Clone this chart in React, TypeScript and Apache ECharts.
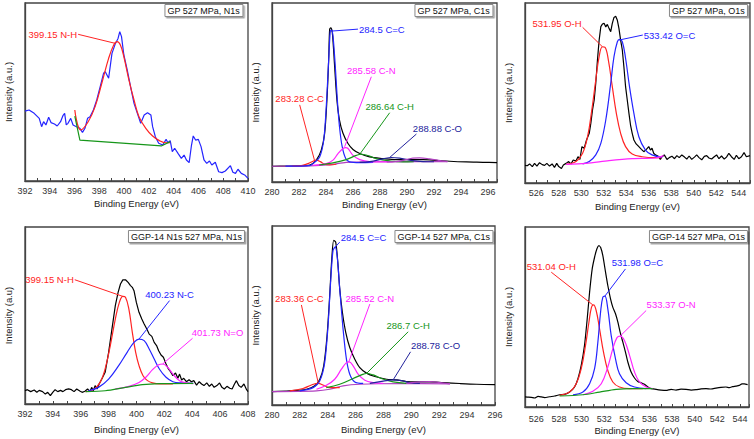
import React, { useEffect, useRef } from 'react';
import * as echarts from 'echarts';

const FONT = "'Liberation Sans', Arial, sans-serif";
const RED = '#ff2424';
const BLUE = '#2424ff';
const MAG = '#ff24ff';
const GREEN = '#16961a';
const NAVY = '#22229c';
const PURPLE = '#b040c0';

// ---------- Panel 1: GP 527 MPa, N1s ----------
const p1Spectrum = [[392.0,39.3],[392.33,39.9],[392.74,38.0],[393.15,35.2],[393.34,30.5],[393.5,33.3],[393.69,31.5],[393.91,35.8],[394.1,32.8],[394.38,32.0],[394.6,30.9],[394.87,33.3],[395.06,36.7],[395.2,38.0],[395.33,31.5],[395.47,32.4],[395.69,35.2],[395.88,31.5],[396.15,30.5],[396.43,29.6],[396.64,27.3],[396.84,29.6],[397.05,35.2],[397.25,36.1],[397.52,39.9],[397.79,45.5],[398.07,53.0],[398.34,60.5],[398.48,61.4],[398.75,57.7],[399.02,71.7],[399.3,77.3],[399.51,80.1],[399.65,83.9],[399.79,81.1],[399.98,70.8],[400.25,62.4],[400.52,53.0],[400.8,43.6],[401.07,38.0],[401.34,32.4],[401.62,37.1],[401.89,38.4],[402.16,37.1],[402.3,30.5],[402.52,24.9],[402.79,21.2],[403.12,20.2],[403.39,23.4],[403.53,21.5],[403.72,22.7],[403.89,16.5],[404.08,18.4],[404.35,15.5],[404.62,12.7],[404.84,14.6],[405.03,11.8],[405.25,10.3],[405.44,20.2],[405.58,25.3],[405.77,23.0],[405.99,23.4],[406.21,19.3],[406.45,11.8],[406.67,9.9],[406.89,11.2],[407.08,9.0],[407.36,10.5],[407.63,5.2],[407.9,4.7],[408.17,5.6],[408.58,8.6],[408.78,4.9],[408.99,4.3],[409.19,6.6],[409.46,4.3],[409.73,3.4],[410.0,1.5]];
const p1FitNH = [[396.02,39.9],[396.5,28.7],[397.1,33.3],[397.66,41.8],[398.2,54.9],[398.75,68.9],[399.16,76.4],[399.43,78.3],[399.7,76.4],[399.98,69.8],[400.39,56.7],[400.8,45.5],[401.2,36.1],[401.75,29.6],[402.3,25.3],[402.85,22.7],[403.39,21.5],[403.72,21.5]];
const p1Base = [[396.02,36.5],[396.43,23.0],[403.0,19.7],[403.72,22.1]];

// ---------- Panel 2: GP 527 MPa, C1s ----------
const p2Envelope = [[280.0,8.8],[281.0,8.9],[282.0,9.0],[282.8,9.4],[283.28,12.2],[283.65,17.8],[283.9,27.2],[284.07,45.9],[284.2,68.4],[284.27,85.2],[284.35,86.1],[284.47,83.3],[284.64,64.6],[284.81,45.9],[285.0,34.6],[285.26,27.2],[285.63,21.5],[286.0,18.2],[286.5,15.9],[287.23,14.0],[288.22,13.1],[289.2,12.5],[290.2,12.5],[291.19,12.5],[292.17,12.1],[293.16,11.6],[294.4,11.2],[295.63,11.0],[296.67,10.8]];
const p2CC = [[281.5,8.9],[282.05,9.0],[282.67,10.3],[283.04,11.6],[283.28,12.2],[283.58,11.4],[283.9,9.9],[284.27,9.5],[284.77,9.9]];
const p2CeqC = [[281.0,8.9],[282.8,9.2],[283.04,10.3],[283.53,14.0],[283.83,23.3],[284.02,42.0],[284.2,68.4],[284.32,84.3],[284.42,84.9],[284.52,81.5],[284.69,64.6],[284.84,45.9],[285.0,30.9],[285.2,19.7],[285.46,13.1],[285.75,11.2],[286.5,10.8],[287.5,10.9]];
const p2CN = [[283.0,9.3],[284.02,10.3],[284.52,12.2],[284.89,15.9],[285.26,18.7],[285.46,19.2],[285.63,18.7],[286.0,14.9],[286.5,12.5],[287.23,11.4],[288.2,11.2],[289.0,11.3]];
const p2CH = [[283.5,9.5],[284.52,10.7],[285.5,12.5],[286.25,14.9],[286.6,15.5],[287.1,14.8],[287.73,13.1],[288.72,11.8],[289.7,11.2],[290.5,11.3]];
const p2CO = [[286.5,11.0],[287.23,11.4],[288.22,12.9],[288.84,13.7],[289.46,13.3],[290.2,12.2],[291.19,11.4],[292.0,11.3]];
const p2Extra = [[288.5,11.2],[289.2,11.4],[290.44,13.3],[290.94,13.5],[291.68,12.9],[292.54,11.8],[293.0,11.4]];
const p2Base = [[280.0,8.8],[282.8,9.0],[284.3,9.7],[285.5,11.0],[287.5,11.3],[290.0,11.4],[292.5,11.4],[293.0,11.3]];

// ---------- Panel 3: GP 527 MPa, O1s ----------
const p3Spectrum = [[525.0,9.8],[525.2,9.6],[525.41,10.6],[525.65,9.1],[525.85,10.9],[526.06,9.4],[526.29,11.3],[526.53,10.2],[526.74,9.8],[526.94,10.9],[527.18,9.4],[527.41,10.6],[527.62,8.7],[527.82,10.9],[528.0,9.1],[528.24,8.1],[528.41,10.0],[528.65,10.9],[528.88,11.9],[529.09,10.6],[529.29,12.8],[529.53,12.2],[529.71,14.6],[529.88,13.1],[530.06,20.2],[530.26,19.3],[530.47,23.9],[530.71,27.6],[530.85,33.1],[531.0,40.6],[531.15,46.1],[531.29,55.4],[531.44,68.3],[531.59,79.4],[531.74,86.9],[531.88,88.3],[532.03,88.7],[532.18,86.7],[532.32,88.1],[532.47,85.9],[532.62,84.1],[532.76,88.7],[532.91,92.0],[533.06,92.6],[533.21,90.4],[533.35,85.9],[533.5,79.4],[533.65,73.9],[533.79,64.6],[533.94,53.5],[534.09,46.1],[534.24,38.7],[534.38,32.2],[534.53,27.6],[534.68,23.9],[534.88,21.7],[535.12,20.2],[535.35,18.7],[535.56,17.4],[535.79,18.7],[536.0,20.2],[536.15,18.3],[536.29,19.3],[536.44,16.5],[536.59,15.6],[536.82,15.0],[537.03,13.1],[537.18,14.6],[537.38,15.6],[537.62,13.1],[537.82,14.1],[538.06,14.9],[538.29,13.5],[538.5,15.2],[538.71,14.1],[538.94,15.6],[539.18,14.4],[539.38,13.3],[539.59,15.0],[539.82,13.1],[540.06,14.4],[540.26,15.6],[540.47,14.1],[540.71,12.9],[540.94,14.8],[541.15,15.2],[541.35,13.9],[541.59,13.3],[541.82,14.6],[542.03,15.6],[542.24,13.5],[542.47,15.0],[542.71,13.3],[542.91,14.4],[543.12,16.5],[543.35,14.6],[543.59,13.1],[543.79,15.4],[544.0,13.5],[544.24,14.6],[544.47,16.9],[544.68,14.6],[545.0,15.2]];
const p3OH = [[528.65,10.4],[529.53,11.9],[530.12,16.5],[530.56,25.7],[530.94,40.6],[531.29,57.2],[531.59,70.2],[531.88,75.7],[532.12,75.4],[532.41,68.3],[532.76,53.5],[533.12,38.7],[533.5,27.6],[533.94,20.2],[534.53,16.1],[535.41,14.6],[536.59,14.1],[537.18,14.1]];
const p3OC = [[530.12,10.6],[530.71,11.9],[531.29,15.6],[531.74,22.0],[532.18,35.0],[532.62,55.4],[532.91,70.2],[533.21,78.5],[533.41,79.8],[533.65,78.5],[533.94,69.3],[534.29,53.5],[534.68,38.7],[535.12,25.7],[535.71,18.3],[536.29,15.6],[537.18,14.3]];
const p3Base = [[528.65,10.4],[530.41,10.9],[532.47,12.4],[534.53,13.5],[536.59,13.9],[537.32,15.2]];

// ---------- Panel 4: GGP-14 527 MPa, N1s ----------
const p4Spectrum = [[392.0,7.5],[392.17,8.1],[392.41,7.0],[392.66,7.9],[392.85,6.6],[393.02,7.7],[393.26,7.0],[393.46,5.6],[393.63,6.6],[393.82,4.7],[393.99,6.6],[394.16,8.1],[394.35,7.0],[394.55,7.7],[394.72,7.0],[394.91,8.1],[395.13,8.5],[395.33,8.1],[395.52,7.0],[395.71,8.5],[395.93,7.3],[396.1,6.6],[396.3,7.2],[396.49,8.5],[396.66,7.0],[396.78,9.4],[396.9,7.5],[397.03,10.4],[397.17,8.5],[397.32,11.3],[397.51,14.1],[397.75,17.9],[398.0,29.2],[398.24,42.4],[398.48,55.6],[398.68,63.1],[398.85,67.8],[399.02,70.1],[399.21,70.2],[399.4,68.7],[399.57,66.9],[399.7,65.9],[399.82,64.0],[399.99,57.4],[400.18,51.8],[400.38,48.0],[400.55,45.2],[400.74,42.4],[400.91,39.5],[401.1,38.2],[401.27,34.8],[401.44,33.0],[401.59,30.1],[401.76,27.7],[401.93,26.4],[402.12,22.6],[402.29,19.8],[402.44,18.3],[402.61,16.0],[402.8,17.5],[402.97,14.5],[403.09,16.9],[403.24,13.6],[403.39,14.5],[403.58,12.6],[403.77,13.7],[403.94,12.6],[404.11,13.2],[404.31,10.7],[404.5,12.6],[404.67,11.3],[404.84,10.4],[405.04,11.9],[405.23,10.0],[405.4,11.3],[405.57,9.4],[405.77,10.4],[405.96,11.9],[406.13,9.4],[406.3,8.5],[406.49,10.0],[406.69,8.9],[406.86,8.5],[407.03,11.3],[407.17,13.2],[407.34,10.4],[407.51,9.4],[407.71,11.3],[407.9,8.1],[408.0,7.0]];
const p4NH = [[396.35,7.0],[396.9,8.1],[397.39,12.2],[397.75,19.8],[398.12,33.0],[398.48,48.0],[398.77,57.4],[399.02,60.8],[399.21,60.3],[399.45,53.7],[399.7,40.5],[399.94,29.2],[400.18,21.7],[400.47,16.0],[400.79,13.2],[401.15,11.9],[401.64,11.3],[402.61,11.3]];
const p4NC = [[396.54,7.5],[397.27,9.4],[398.0,14.1],[398.72,21.7],[399.33,29.2],[399.82,34.8],[400.18,36.7],[400.55,35.8],[400.91,31.1],[401.27,25.4],[401.64,19.8],[402.12,15.1],[402.61,12.6],[403.22,11.9],[404.07,11.7]];
const p4NO = [[398.48,8.5],[399.45,10.0],[400.18,12.2],[400.67,15.1],[401.15,19.4],[401.59,22.2],[401.88,22.6],[402.24,20.7],[402.61,16.9],[403.09,13.2],[403.58,11.9],[404.07,11.5]];
const p4Base = [[396.35,7.0],[397.75,7.5],[399.21,9.4],[400.42,10.9],[401.64,11.5],[404.07,11.7]];

// ---------- Panel 5: GGP-14 527 MPa, C1s ----------
const p5Envelope = [[280.0,7.5],[281.27,7.9],[282.47,8.8],[283.07,10.7],[283.43,14.4],[283.71,21.9],[283.95,38.7],[284.14,61.1],[284.29,81.7],[284.43,92.0],[284.57,91.0],[284.72,79.8],[284.86,64.9],[285.05,51.8],[285.29,40.6],[285.58,32.1],[285.94,25.6],[286.3,20.9],[286.78,17.8],[287.38,15.9],[288.22,14.4],[288.93,14.0],[289.65,13.1],[290.37,12.9],[291.33,12.9],[292.29,12.5],[293.49,12.0],[294.68,11.6],[296.0,11.4]];
const p5CC = [[281.27,7.9],[282.23,9.2],[282.83,11.2],[283.31,12.1],[283.71,11.0],[284.14,9.7],[284.86,9.7]];
const p5CeqC = [[281.99,7.9],[282.95,9.7],[283.43,13.5],[283.78,23.7],[284.02,44.3],[284.22,70.5],[284.38,86.4],[284.53,88.2],[284.67,83.6],[284.86,64.9],[285.1,42.4],[285.34,25.6],[285.58,17.2],[285.94,12.9],[286.54,12.1]];
const p5CN = [[283.19,8.8],[283.9,11.0],[284.5,14.4],[284.98,20.0],[285.34,23.7],[285.53,24.1],[285.82,21.9],[286.18,17.2],[286.66,13.8],[287.26,12.5],[287.98,12.1]];
const p5CH = [[283.9,9.7],[284.86,11.6],[285.82,14.8],[286.42,16.8],[286.78,17.6],[287.26,16.8],[287.86,14.8],[288.69,12.9],[289.65,12.1]];
const p5CO = [[287.02,12.1],[287.98,13.3],[288.69,14.0],[289.29,13.6],[289.89,12.5],[290.61,12.1]];
const p5Extra = [[289.65,12.1],[290.61,12.9],[291.33,13.1],[292.05,12.5],[292.77,11.8]];
const p5Base = [[280.0,7.5],[283.19,7.9],[284.14,8.8],[285.1,10.7],[286.3,11.6],[289.17,12.0],[292.77,11.8]];

// ---------- Panel 6: GGP-14 527 MPa, O1s ----------
const p6Envelope = [[525.0,5.6],[525.21,5.5],[525.56,5.4],[525.85,5.0],[526.15,5.9],[526.44,5.6],[526.74,5.2],[527.18,5.7],[527.62,6.1],[528.06,6.8],[528.5,7.0],[528.94,8.3],[529.38,11.1],[529.68,15.7],[529.97,23.1],[530.26,34.2],[530.5,49.0],[530.71,63.8],[530.94,76.7],[531.15,83.2],[531.35,87.8],[531.53,89.6],[531.68,88.7],[531.88,84.1],[532.12,74.9],[532.32,67.5],[532.56,60.1],[532.76,55.5],[533.0,51.8],[533.21,47.1],[533.41,41.6],[533.65,36.0],[533.88,30.5],[534.09,25.0],[534.38,19.4],[534.68,16.1],[534.97,14.2],[535.26,13.5],[535.56,12.6],[536.0,10.5],[536.59,9.8],[537.03,9.4],[537.47,9.2],[537.91,9.8],[538.35,9.4],[538.79,9.9],[539.24,9.8],[539.68,9.4],[540.12,9.6],[540.56,10.1],[541.0,10.2],[541.44,10.0],[541.88,10.5],[542.32,10.9],[542.76,11.1],[543.06,10.8],[543.35,11.3],[543.65,11.6],[543.94,12.0],[544.18,12.9],[544.38,12.8],[544.68,12.4]];
const p6OH = [[528.06,6.5],[528.94,8.3],[529.53,12.9],[529.97,21.3],[530.35,34.2],[530.65,47.1],[530.88,55.5],[531.06,56.7],[531.29,53.6],[531.59,43.4],[531.94,30.5],[532.32,20.3],[532.76,13.9],[533.35,11.1],[534.24,10.2],[535.41,10.2]];
const p6OC = [[529.24,6.8],[530.12,8.3],[530.71,12.9],[531.15,21.3],[531.44,36.0],[531.68,52.7],[531.88,61.0],[532.06,61.6],[532.32,54.5],[532.62,39.7],[533.0,26.8],[533.35,18.5],[533.94,13.5],[534.68,11.1],[535.71,10.2]];
const p6ON = [[530.12,6.8],[531.0,8.7],[531.74,12.9],[532.32,22.2],[532.76,32.3],[533.12,38.4],[533.41,39.4],[533.79,37.0],[534.24,28.7],[534.68,19.4],[535.12,13.9],[535.71,11.1],[536.29,10.2]];
const p6Base = [[528.06,6.1],[530.12,6.8],[531.59,8.3],[533.06,9.8],[534.53,10.2],[536.29,10.2]];

// ---------- Texts ----------
const panelTitles = ['GP 527 MPa, N1s', 'GP 527 MPa, C1s', 'GP 527 MPa, O1s', 'GGP-14 N1s 527 MPa, N1s', 'GGP-14 527 MPa, C1s', 'GGP-14 527 MPa, O1s'];
const yNames = ['Intensity (a.u.)', 'Intensity (a.u.)', 'Intensity (a.u.)', 'Intensity (a.u)', 'Intensity (a.u.)', 'Intensity (a.u.)'];
const xName = 'Binding Energy (eV)';

type Ann = { text: string; color: string; from: number[]; to: number[]; pos: string; offset?: number[] };
type Curve = { data: number[][]; color: string; smooth: number; width?: number };

const panels: {
  grid: { left: number; top: number; width: number; height: number };
  x: [number, number];
  titleRight: number; titleTop: number;
  xNameGap: number; yNameGap: number; labelMargin: number;
  curves: Curve[]; anns: Ann[];
}[] = [
  {
    grid: { left: 25, top: 3, width: 223, height: 178 }, x: [392, 410],
    titleRight: 511, titleTop: 4, xNameGap: 17, yNameGap: 12, labelMargin: 5,
    curves: [
      { data: p1Spectrum, color: BLUE, smooth: 0 },
      { data: p1FitNH, color: RED, smooth: 0.4 },
      { data: p1Base, color: GREEN, smooth: 0 },
    ],
    anns: [{ text: '399.15 N-H', color: RED, from: [396.29, 82.4], to: [399.3, 77.3], pos: 'left' }],
  },
  {
    grid: { left: 272, top: 3, width: 225, height: 179 }, x: [280, 296.67],
    titleRight: 261, titleTop: 4, xNameGap: 17, yNameGap: 11.5, labelMargin: 5,
    curves: [
      { data: p2Envelope, color: '#000', smooth: 0.3 },
      { data: p2Base, color: PURPLE, smooth: 0.3 },
      { data: p2CC, color: RED, smooth: 0.4 },
      { data: p2CeqC, color: BLUE, smooth: 0.3 },
      { data: p2CN, color: MAG, smooth: 0.4 },
      { data: p2CH, color: GREEN, smooth: 0.4 },
      { data: p2CO, color: NAVY, smooth: 0.4 },
      { data: p2Extra, color: PURPLE, smooth: 0.4 },
    ],
    anns: [
      { text: '284.5 C=C', color: BLUE, from: [286.37, 85.4], to: [284.4, 84.3], pos: 'right' },
      { text: '285.58 C-N', color: MAG, from: [287.36, 58.8], to: [285.38, 19.7], pos: 'top' },
      { text: '283.28 C-C', color: RED, from: [282.05, 43.1], to: [283.16, 11.8], pos: 'top' },
      { text: '286.64 C-H', color: GREEN, from: [288.72, 38.7], to: [286.5, 15.5], pos: 'top' },
      { text: '288.88 C-O', color: NAVY, from: [290.7, 26.8], to: [288.72, 13.7], pos: 'top', offset: [21, 0] },
    ],
  },
  {
    grid: { left: 525, top: 3, width: 225, height: 180 }, x: [525, 545],
    titleRight: 6, titleTop: 4, xNameGap: 18, yNameGap: 12, labelMargin: 5,
    curves: [
      { data: p3Spectrum, color: '#000', smooth: 0 },
      { data: p3OH, color: RED, smooth: 0.4 },
      { data: p3OC, color: BLUE, smooth: 0.4 },
      { data: p3Base, color: MAG, smooth: 0.3 },
    ],
    anns: [
      { text: '531.95 O-H', color: RED, from: [530.12, 86.5], to: [531.88, 75.7], pos: 'left', offset: [0, -4] },
      { text: '533.42 O=C', color: BLUE, from: [535.47, 82.2], to: [533.35, 79.4], pos: 'right' },
    ],
  },
  {
    grid: { left: 25, top: 227, width: 223, height: 177 }, x: [392, 408],
    titleRight: 509, titleTop: 230, xNameGap: 20, yNameGap: 12, labelMargin: 5,
    curves: [
      { data: p4Spectrum, color: '#000', smooth: 0 },
      { data: p4NH, color: RED, smooth: 0.4 },
      { data: p4NC, color: BLUE, smooth: 0.4 },
      { data: p4NO, color: MAG, smooth: 0.4 },
      { data: p4Base, color: GREEN, smooth: 0.3 },
    ],
    anns: [
      { text: '399.15 N-H', color: RED, from: [395.57, 70.2], to: [399.02, 60.8], pos: 'left' },
      { text: '400.23 N-C', color: BLUE, from: [402.37, 58.4], to: [400.18, 36.7], pos: 'top' },
      { text: '401.73 N=O', color: MAG, from: [404.02, 37.1], to: [401.88, 22.6], pos: 'top', offset: [25, 0] },
    ],
  },
  {
    grid: { left: 272, top: 226, width: 223, height: 179 }, x: [280, 296],
    titleRight: 261, titleTop: 230, xNameGap: 19.5, yNameGap: 11.5, labelMargin: 5.5,
    curves: [
      { data: p5Envelope, color: '#000', smooth: 0.3 },
      { data: p5Base, color: PURPLE, smooth: 0.3 },
      { data: p5CC, color: RED, smooth: 0.4 },
      { data: p5CeqC, color: BLUE, smooth: 0.3 },
      { data: p5CN, color: MAG, smooth: 0.4 },
      { data: p5CH, color: GREEN, smooth: 0.4 },
      { data: p5CO, color: NAVY, smooth: 0.4 },
      { data: p5Extra, color: PURPLE, smooth: 0.4 },
    ],
    anns: [
      { text: '284.5 C=C', color: BLUE, from: [284.86, 91.0], to: [284.53, 88.2], pos: 'right', offset: [0, -5] },
      { text: '283.36 C-C', color: RED, from: [282.11, 55.9], to: [283.31, 12.5], pos: 'top', offset: [-2, 0] },
      { text: '285.52 C-N', color: MAG, from: [287.02, 56.4], to: [285.51, 24.1], pos: 'top' },
      { text: '286.7 C-H', color: GREEN, from: [289.77, 40.9], to: [286.78, 17.6], pos: 'top' },
      { text: '288.78 C-O', color: NAVY, from: [289.94, 29.7], to: [288.69, 14.0], pos: 'top', offset: [25, 0] },
    ],
  },
  {
    grid: { left: 525, top: 227, width: 224, height: 180 }, x: [525, 544.8],
    titleRight: 6, titleTop: 230, xNameGap: 18.5, yNameGap: 12, labelMargin: 7,
    curves: [
      { data: p6Envelope, color: '#000', smooth: 0.2 },
      { data: p6OH, color: RED, smooth: 0.4 },
      { data: p6OC, color: BLUE, smooth: 0.4 },
      { data: p6ON, color: MAG, smooth: 0.4 },
      { data: p6Base, color: GREEN, smooth: 0.3 },
    ],
    anns: [
      { text: '531.04 O-H', color: RED, from: [527.32, 74.9], to: [531.0, 56.7], pos: 'top' },
      { text: '531.98 O=C', color: BLUE, from: [533.88, 76.7], to: [532.06, 61.6], pos: 'top', offset: [12, 0] },
      { text: '533.37 O-N', color: MAG, from: [535.71, 53.6], to: [533.41, 39.4], pos: 'top', offset: [25, 0] },
    ],
  },
];

const AXIS_COLOR = '#444';

function buildOption() {
  const grid: any[] = [];
  const xAxis: any[] = [];
  const yAxis: any[] = [];
  const series: any[] = [];
  const title: any[] = [];

  panels.forEach((p, i) => {
    grid.push({ ...p.grid, show: true, borderColor: AXIS_COLOR, borderWidth: 1.3, backgroundColor: 'transparent' });
    xAxis.push({
      gridIndex: i, type: 'value', min: p.x[0], max: p.x[1], interval: 1,
      axisLine: { show: true, onZero: false, lineStyle: { color: AXIS_COLOR, width: 1.3 } },
      axisTick: { show: true, inside: true, length: 3, lineStyle: { color: AXIS_COLOR, width: 1 } },
      axisLabel: {
        interval: 0, margin: p.labelMargin, fontSize: 9, color: '#333', fontFamily: FONT,
        showMinLabel: true, showMaxLabel: true,
        formatter: (v: number) => {
          const r = Math.round(v);
          return Math.abs(v - r) < 1e-6 && r % 2 === 0 ? String(r) : '';
        },
      },
      splitLine: { show: false },
      name: xName, nameLocation: 'middle', nameGap: p.xNameGap,
      nameTextStyle: { fontSize: 9.5, color: '#222', fontFamily: FONT },
    });
    yAxis.push({
      gridIndex: i, type: 'value', min: 0, max: 100,
      axisLine: { show: true, lineStyle: { color: AXIS_COLOR, width: 1.3 } },
      axisTick: { show: false }, axisLabel: { show: false }, splitLine: { show: false },
      name: yNames[i], nameLocation: 'middle', nameGap: p.yNameGap,
      nameTextStyle: { fontSize: 9.5, color: '#222', fontFamily: FONT },
    });
    title.push({
      text: panelTitles[i], right: p.titleRight, top: p.titleTop,
      padding: [1, 3, 1, 3], borderColor: '#888', borderWidth: 1, backgroundColor: '#fff',
      shadowColor: 'rgba(0,0,0,0.35)', shadowOffsetX: 1.5, shadowOffsetY: 1.5, shadowBlur: 0,
      textStyle: { fontSize: 9, fontWeight: 'normal', color: '#111', fontFamily: FONT, lineHeight: 11 },
    });
    p.curves.forEach((c, j) => {
      const s: any = {
        type: 'line', xAxisIndex: i, yAxisIndex: i, data: c.data,
        showSymbol: false, symbol: 'none', smooth: c.smooth || false, silent: true,
        lineStyle: { color: c.color, width: c.width ?? 1.2 }, itemStyle: { color: c.color },
        z: 3,
      };
      if (j === 0) {
        s.markLine = {
          silent: true, symbol: ['none', 'none'], label: { show: false }, animation: false,
          lineStyle: { width: 1, type: 'solid' },
          data: p.anns.map((a) => [{ coord: a.from, lineStyle: { color: a.color, width: 1, type: 'solid' } }, { coord: a.to }]),
        };
        s.markPoint = {
          silent: true, symbol: 'circle', symbolSize: 0, animation: false,
          data: p.anns.map((a) => ({
            coord: a.from, itemStyle: { color: 'transparent' },
            label: {
              show: true, position: a.pos, distance: 1, offset: a.offset || [0, 0],
              formatter: a.text, color: a.color, fontSize: 9.5, fontFamily: FONT,
            },
          })),
        };
      }
      series.push(s);
    });
  });

  return {
    animation: false,
    backgroundColor: '#fff',
    textStyle: { fontFamily: FONT },
    title, grid, xAxis, yAxis, series,
  };
}

export default function App() {
  const ref = useRef<HTMLDivElement>(null);
  useEffect(() => {
    if (!ref.current) return;
    const chart = echarts.init(ref.current, undefined, { renderer: 'svg' });
    chart.setOption(buildOption() as any);
    return () => chart.dispose();
  }, []);
  return (
    <div
      ref={ref}
      style={{ position: 'absolute', left: 0, top: 0, width: 754, height: 439, background: '#fff' }}
    />
  );
}
